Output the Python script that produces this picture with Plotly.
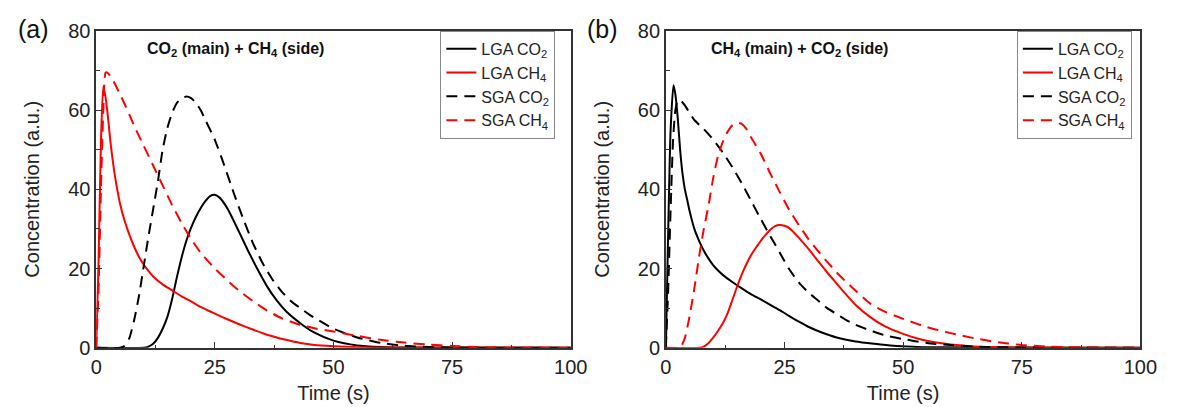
import plotly.graph_objects as go

# ---------------- Panel (a): CO2 (main) + CH4 (side) ----------------
a_lga_co2_x = [0, 10, 11, 12, 13, 14, 15, 16, 17, 18, 19, 20, 21, 22, 23, 24, 25, 26, 27, 28, 30, 32, 34, 36, 38, 40, 43, 46, 50, 55, 60, 65, 100]
a_lga_co2_y = [0, 0, 0.3, 1.0, 2.5, 4.8, 7.8, 12.3, 17.8, 22.8, 27.0, 30.3, 33.0, 35.2, 37.0, 38.3, 38.6, 37.9, 36.4, 34.4, 29.5, 24.5, 19.8, 15.5, 12.0, 9.2, 6.2, 3.8, 1.8, 0.6, 0.2, 0.05, 0]

a_sga_co2_x = [0, 5, 6, 7, 8, 9, 10, 11, 12, 13, 14, 15, 16, 17, 18, 19, 20, 21, 22, 23, 25, 27, 29, 31, 33, 35, 37, 39, 41, 43, 45, 50, 55, 60, 65, 70, 75, 100]
a_sga_co2_y = [0, 0, 0.5, 2.5, 7, 13, 20.5, 28, 35, 42, 50, 55.5, 59.3, 61.8, 63.0, 63.4, 63.0, 61.8, 60.0, 57.5, 52.5, 46, 39, 32.5, 26.5, 21.5, 17.5, 14.3, 11.8, 10.0, 8.3, 4.8, 2.6, 1.2, 0.5, 0.2, 0.05, 0]

a_lga_ch4_x = [0, 0.5, 1, 1.5, 2, 2.5, 3, 4, 5, 6, 7, 8, 9, 10, 11, 12, 14, 16, 18, 20, 22, 25, 28, 30, 33, 36, 40, 43, 46, 50, 55, 60, 100]
a_lga_ch4_y = [0, 22, 52, 66, 63, 58, 52, 43, 36.5, 32, 28.5, 25.5, 23, 21, 19.4, 18, 16, 14.5, 13, 11.7, 10.3, 8.6, 7, 6, 4.6, 3.3, 2, 1.2, 0.7, 0.4, 0.15, 0.05, 0]

a_sga_ch4_x = [0, 0.5, 1, 1.5, 2, 2.5, 3, 4, 5, 6, 7, 8, 9, 10, 12, 14, 16, 18, 20, 22, 25, 28, 30, 33, 36, 39, 43, 46, 50, 55, 60, 65, 70, 75, 80, 85, 100]
a_sga_ch4_y = [0, 15, 40, 60, 69.5, 69.3, 68.5, 66.5, 64, 61.5, 58.8, 56, 53.5, 51, 46, 41, 36, 31.5, 27.5, 24, 20, 16.6, 14.5, 11.8, 9.4, 7.5, 5.8, 4.9, 4.1, 3.0, 2.0, 1.3, 0.8, 0.45, 0.2, 0.1, 0]

# ---------------- Panel (b): CH4 (main) + CO2 (side) ----------------
b_lga_co2_x = [0, 0.5, 1, 1.6, 2, 2.5, 3, 3.5, 4, 4.5, 5, 6, 7, 8, 9, 10, 11, 12, 14, 16, 18, 20, 22, 24, 26, 28, 30, 33, 36, 40, 44, 48, 52, 56, 100]
b_lga_co2_y = [0, 30, 55, 66.3, 64, 58, 50, 44, 40, 37.3, 34.5, 30, 27, 24.5, 22.5, 20.8, 19.5, 18.4, 16.6, 15, 13.5, 12.2, 10.8, 9.5, 8, 6.6, 5.3, 3.8, 2.6, 1.6, 1, 0.5, 0.25, 0.1, 0]

b_sga_co2_x = [0, 0.5, 1, 1.5, 2, 2.5, 3, 4, 5, 6, 8, 10, 12, 14, 16, 18, 20, 22, 24, 26, 28, 30, 32, 34, 36, 38, 40, 43, 46, 50, 55, 60, 65, 70, 75, 100]
b_sga_co2_y = [0, 15, 35, 52, 60, 62.3, 62.5, 61.2, 59.3, 57.5, 55.2, 52.5, 49.3, 45.6, 41.5, 37, 32.5, 28.2, 24, 19.8, 16.5, 14, 12, 10, 8.5, 7, 5.8, 4.4, 3.2, 2.2, 1.2, 0.7, 0.3, 0.15, 0.05, 0]

b_lga_ch4_x = [0, 7, 8, 9, 10, 11, 12, 13, 14, 15, 16, 17, 18, 19, 20, 21, 22, 23, 24, 25, 26, 28, 30, 32, 34, 36, 38, 40, 43, 46, 50, 54, 57, 60, 64, 70, 100]
b_lga_ch4_y = [0, 0, 0.3, 1.2, 2.6, 4.3, 6.2, 8.7, 12, 15.4, 18.5, 21.2, 23.5, 25.3, 27, 28.5, 29.8, 30.7, 31, 30.8, 30.2, 27.8, 25, 22, 19, 16.2, 13.4, 10.8, 7.8, 5.5, 3.5, 2, 1.3, 0.8, 0.4, 0.1, 0]

b_sga_ch4_x = [0, 3, 4, 5, 6, 7, 8, 9, 10, 11, 12, 13, 14, 15, 16, 17, 18, 20, 22, 24, 26, 28, 30, 32, 34, 36, 38, 40, 43, 46, 50, 55, 60, 65, 70, 75, 80, 85, 100]
b_sga_ch4_y = [0, 0, 2.5, 8, 15, 23, 30, 36, 43, 48.5, 52, 54.5, 56.2, 56.8, 56.5, 55.2, 53, 49, 44, 39.3, 34.8, 31, 27.5, 24.5, 21.7, 19, 16.6, 14.4, 11.2, 9.2, 7.3, 5.2, 3.7, 2.4, 1.4, 0.7, 0.3, 0.1, 0]

series_names = ["LGA CO<sub>2</sub>", "LGA CH<sub>4</sub>", "SGA CO<sub>2</sub>", "SGA CH<sub>4</sub>"]
panel_titles = ["<b>CO<sub>2</sub> (main) + CH<sub>4</sub> (side)</b>",
                "<b>CH<sub>4</sub> (main) + CO<sub>2</sub> (side)</b>"]
panel_labels = ["(a)", "(b)"]

BLACK = "#000000"
RED = "#ff0000"
DASH = "11px,7px"
FONT = "Arial, Liberation Sans, sans-serif"

W, H = 1179, 407

fig = go.Figure()

panels = [
    ("x", "y", "legend", [(a_lga_co2_x, a_lga_co2_y), (a_lga_ch4_x, a_lga_ch4_y),
                          (a_sga_co2_x, a_sga_co2_y), (a_sga_ch4_x, a_sga_ch4_y)]),
    ("x2", "y2", "legend2", [(b_lga_co2_x, b_lga_co2_y), (b_lga_ch4_x, b_lga_ch4_y),
                             (b_sga_co2_x, b_sga_co2_y), (b_sga_ch4_x, b_sga_ch4_y)]),
]
styles = [(BLACK, "solid"), (RED, "solid"), (BLACK, DASH), (RED, DASH)]

for xa, ya, lg, data in panels:
    for name, (xs, ys), (col, dash) in zip(series_names, data, styles):
        fig.add_trace(go.Scatter(
            x=xs, y=ys, mode="lines", name=name, xaxis=xa, yaxis=ya, legend=lg,
            line=dict(color=col, width=2, dash=dash, shape="spline", smoothing=0.6),
        ))

axis_common = dict(
    showline=True, mirror=True, linecolor="#333333", linewidth=1.5,
    showgrid=False, zeroline=False,
    ticks="inside", ticklen=6, tickwidth=1, tickcolor="#333333",
    tickfont=dict(family=FONT, size=20, color="#222222"),
)

ydom = [(H - 356) / H, (H - 21) / H]
xdom_a = [92 / W, 576 / W]
xdom_b = [673 / W, 1157 / W]

xcommon = dict(axis_common, range=[0, 100], tickvals=[0, 25, 50, 75, 100],
               minor=dict(ticks="inside", ticklen=3, dtick=12.5, tick0=0, tickcolor="#333333"),
               title=dict(text="Time (s)", font=dict(family=FONT, size=20, color="#222222"), standoff=9))
ycommon = dict(axis_common, range=[0, 80], tickvals=[0, 20, 40, 60, 80],
               minor=dict(ticks="inside", ticklen=4, dtick=10, tick0=0, tickcolor="#333333"),
               title=dict(text="Concentration (a.u.)", font=dict(family=FONT, size=20, color="#222222"), standoff=23))

legend_common = dict(
    font=dict(family=FONT, size=16, color="#222222"),
    bordercolor="#888888", borderwidth=1, bgcolor="white",
    xanchor="left", yanchor="top", tracegroupgap=0,
)

fig.update_layout(
    width=W, height=H,
    margin=dict(l=0, r=0, t=0, b=0),
    paper_bgcolor="white", plot_bgcolor="white",
    font=dict(family=FONT, color="#222222"),
    xaxis=dict(xcommon, domain=xdom_a, anchor="y"),
    yaxis=dict(ycommon, domain=ydom, anchor="x"),
    xaxis2=dict(xcommon, domain=xdom_b, anchor="y2"),
    yaxis2=dict(ycommon, domain=ydom, anchor="x2"),
    legend=dict(legend_common, x=443 / W, y=1 - 21 / H),
    legend2=dict(legend_common, x=1031 / W, y=1 - 21 / H),
    showlegend=True,
)

ann_x = [234 / W, 809 / W]
lab_x = [28 / W, 608 / W]
for i in range(2):
    fig.add_annotation(text=panel_titles[i], xref="paper", yref="paper",
                       x=ann_x[i], y=1 - 41 / H, xanchor="center", yanchor="middle",
                       showarrow=False, font=dict(family=FONT, size=16, color="#111111"))
    fig.add_annotation(text=panel_labels[i], xref="paper", yref="paper",
                       x=lab_x[i], y=1 - 19 / H, xanchor="center", yanchor="middle",
                       showarrow=False, font=dict(family=FONT, size=25, color="#111111"))

fig.write_html("out.html")
